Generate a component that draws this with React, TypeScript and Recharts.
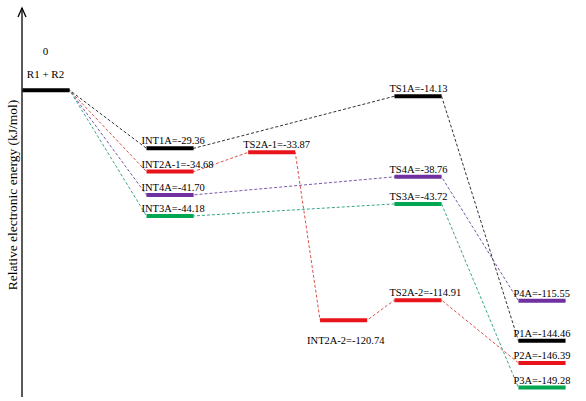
import { LineChart, Line, XAxis, YAxis } from 'recharts'

// species on the energy profile
const species = ['R1 + R2', 'INT1A', 'INT2A-1', 'INT4A', 'INT3A', 'TS2A-1', 'INT2A-2', 'TS1A', 'TS4A', 'TS3A', 'TS2A-2', 'P4A', 'P1A', 'P2A', 'P3A']
// energies printed next to each level (kJ/mol)
const energies = [0, -29.36, -34.68, -41.7, -44.18, -33.87, -120.74, -14.13, -38.76, -43.72, -114.91, -115.55, -144.46, -146.39, -149.28]
// the figure is schematic, not to scale: height at which each level is drawn
const drawnLevels = [0, -29.0, -40.6, -52.2, -62.7, -31.0, -114.7, -3.0, -43.2, -56.7, -104.7, -105.0, -125.0, -136.0, -148.3]
// reaction coordinate column of each level
const stages = [0, 1, 1, 1, 1, 1.82, 2.4, 3, 3, 3, 3, 4, 4, 4, 4]
const levelColors = ['#000000', '#000000', '#e8141c', '#7030a0', '#00a651', '#e8141c', '#e8141c', '#000000', '#7030a0', '#00a651', '#e8141c', '#7030a0', '#000000', '#e8141c', '#00a651']

const pathways = [
  { stops: ['R1 + R2', 'INT1A', 'TS1A', 'P1A'], color: '#333333' },
  { stops: ['R1 + R2', 'INT2A-1', 'TS2A-1', 'INT2A-2', 'TS2A-2', 'P2A'], color: '#e0504a' },
  { stops: ['R1 + R2', 'INT4A', 'TS4A', 'P4A'], color: '#7a58a8' },
  { stops: ['R1 + R2', 'INT3A', 'TS3A', 'P3A'], color: '#3aa58a' },
]

const HALF = 0.19
const FONT = '"Liberation Serif", "Times New Roman", serif'

function levelPoints(name: string) {
  const i = species.indexOf(name)
  return [
    { x: stages[i] - HALF, y: drawnLevels[i] },
    { x: stages[i] + HALF, y: drawnLevels[i] },
  ]
}

function LevelLabel(props: any, i: number) {
  const { x, y, index } = props
  if (index !== 0) return <g key={`l${i}-${index}`} />
  const name = species[i]
  if (name === 'R1 + R2') {
    return (
      <g key={`l${i}`} fontFamily={FONT} fontSize={11} fill="#000">
        <text x={x + 23} y={y - 35} textAnchor="middle">0</text>
        <text x={x + 23} y={y - 12} textAnchor="middle">R1 + R2</text>
      </g>
    )
  }
  const below = name === 'INT2A-2'
  return (
    <text key={`l${i}`} x={below ? x - 13 : x - 5} y={below ? y + 24 : y - 4} fontFamily={FONT} fontSize={10.5} fill="#000">
      {`${name}=${energies[i].toFixed(2)}`}
    </text>
  )
}

function AxisDecor(props: any) {
  const { viewBox } = props
  const ax = viewBox.x + viewBox.width
  const top = viewBox.y
  return (
    <g>
      <polyline points={`${ax - 4},${top + 9} ${ax},${top} ${ax + 4},${top + 9}`} fill="none" stroke="#000" strokeWidth={1.3} />
      <text
        x={12}
        y={195}
        transform="rotate(-90 12 195)"
        textAnchor="middle"
        dominantBaseline="central"
        fontFamily={FONT}
        fontSize={13.5}
        fill="#000"
      >
        Relative electronic energy (kJ/mol)
      </text>
    </g>
  )
}

export default function App() {
  return (
    <div style={{ width: 586, height: 401, background: '#fff' }}>
      <style>{'body{margin:0}'}</style>
      <LineChart width={586} height={401} margin={{ top: 8, right: 0, bottom: 4, left: 0 }}>
        <XAxis type="number" dataKey="x" domain={[-0.194, 4.355]} hide allowDataOverflow />
        <YAxis
          type="number"
          dataKey="y"
          domain={[-153, 41]}
          width={22}
          tick={false}
          tickLine={false}
          axisLine={{ stroke: '#000', strokeWidth: 1.3 }}
          label={<AxisDecor />}
          allowDataOverflow
        />
        {pathways.map((p, pi) => (
          <Line
            key={`p${pi}`}
            data={p.stops.flatMap(levelPoints)}
            dataKey="y"
            stroke={p.color}
            strokeWidth={1}
            strokeDasharray="3 2"
            dot={false}
            activeDot={false}
            isAnimationActive={false}
          />
        ))}
        {species.map((name, i) => (
          <Line
            key={name}
            data={levelPoints(name)}
            dataKey="y"
            stroke={levelColors[i]}
            strokeWidth={4}
            dot={false}
            activeDot={false}
            isAnimationActive={false}
            label={(props: any) => LevelLabel(props, i)}
          />
        ))}
      </LineChart>
    </div>
  )
}
